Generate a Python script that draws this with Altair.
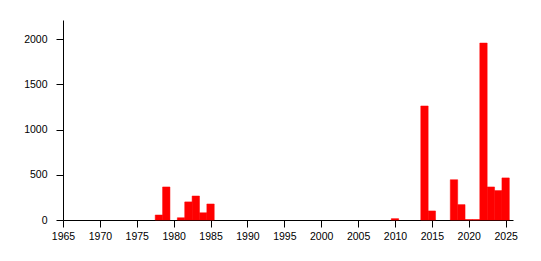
import altair as alt
import pandas as pd

years = [1978, 1979, 1981, 1982, 1983, 1984, 1985, 2010, 2014, 2015, 2018, 2019, 2020, 2021, 2022, 2023, 2024, 2025]
counts = [55, 365, 25, 200, 265, 80, 177, 15, 1260, 100, 445, 170, 5, 5, 1955, 365, 325, 465]
x_ticks = list(range(1965, 2030, 5))
y_ticks = [0, 500, 1000, 1500, 2000]

df = pd.DataFrame({"year": years, "count": counts})

axis_style = dict(title=None, grid=False, domainColor="black", tickColor="black",
                  labelColor="black", labelFont="Liberation Sans", labelFontSize=10.5,
                  tickSize=7, format="d")

chart = alt.Chart(df).transform_calculate(
    x0="datum.year - 0.5", x1="datum.year + 0.5"
).mark_rect(color="#ff0000", stroke="#ff0000", strokeWidth=0.5).encode(
    x=alt.X("x0:Q", scale=alt.Scale(domain=[1965, 2026], nice=False, zero=False),
            axis=alt.Axis(values=x_ticks, labelPadding=4, labelFlush=False, **axis_style)),
    x2="x1:Q",
    y=alt.Y("count:Q", scale=alt.Scale(domain=[0, 2210], nice=False),
            axis=alt.Axis(values=y_ticks, labelPadding=9, **axis_style)),
    y2=alt.Y2(datum=0),
).properties(
    width=450, height=200,
    padding={"left": 63, "top": 20, "right": 28, "bottom": 41},
    autosize=alt.AutoSizeParams(type="none"),
).configure_view(stroke=None).configure_axis(domainWidth=1, tickWidth=1)

chart.save("out.html", embed_options={"renderer": "svg", "actions": False})
